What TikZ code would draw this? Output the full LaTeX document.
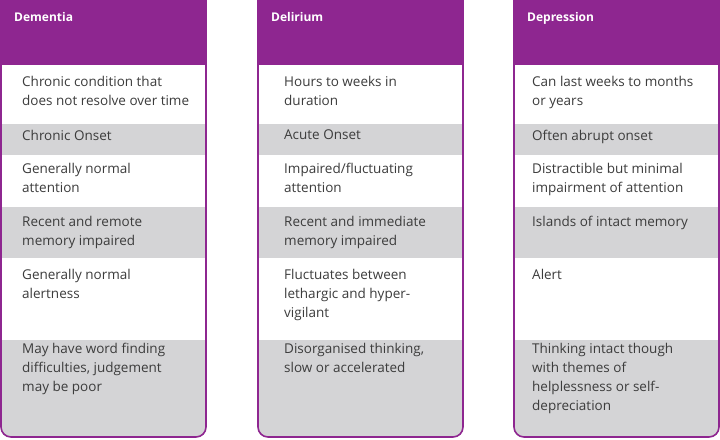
\documentclass[tikz,border=0pt]{standalone}
\usepackage{fontspec}
\setmainfont{Open Sans}
\definecolor{colpurple}{HTML}{8E2690}
\definecolor{rowgrey}{HTML}{D4D4D6}
\definecolor{txtgrey}{HTML}{3C3C3C}
\tikzset{
  head/.style={anchor=north west,inner sep=0pt,text=white,font=\fontsize{12}{14}\selectfont\bfseries},
  cell/.style={anchor=north west,inner sep=0pt,text=txtgrey,align=left,font=\fontsize{13.5}{19}\selectfont},
}
\begin{document}
\begin{tikzpicture}[x=1pt,y=-1pt]
  \useasboundingbox (0,0) rectangle (720,439);
  \foreach \cx in {0,257,513}{
    % column body
    \begin{scope}
      \clip[rounded corners=10pt] (\cx+1,-20) rectangle (\cx+206,437);
      \fill[white] (\cx,0) rectangle (\cx+207,437);
      \fill[colpurple] (\cx,-20) rectangle (\cx+207,65);
      \fill[rowgrey] (\cx,124) rectangle (\cx+207,155);
      \fill[rowgrey] (\cx,207) rectangle (\cx+207,258);
      \fill[rowgrey] (\cx,340) rectangle (\cx+207,437);
    \end{scope}
    \draw[colpurple,line width=1.6pt,rounded corners=10pt] (\cx+1,-20) rectangle (\cx+206,437);
  }
  % headers
  \node[head] (hdem) at (14,12) {Dementia};
  \node[head] (hdel) at (271,12) {Delirium};
  \node[head] (hdep) at (527,12) {Depression};
  % dementia
  \node[cell] (dem1) at (22,76) {Chronic condition that\\does not resolve over time};
  \node[cell] (dem2) at (22,130) {Chronic Onset};
  \node[cell] (dem3) at (22,163) {Generally normal\\attention};
  \node[cell] (dem4) at (22,216) {Recent and remote\\memory impaired};
  \node[cell] (dem5) at (22,269) {Generally normal\\alertness};
  \node[cell] (dem6) at (22,343) {May have word finding\\difficulties, judgement\\may be poor};
  % delirium
  \node[cell] (del1) at (284,76) {Hours to weeks in\\duration};
  \node[cell] (del2) at (284,130) {Acute Onset};
  \node[cell] (del3) at (284,163) {Impaired/fluctuating\\attention};
  \node[cell] (del4) at (284,216) {Recent and immediate\\memory impaired};
  \node[cell] (del5) at (284,269) {Fluctuates between\\lethargic and hyper-\\vigilant};
  \node[cell] (del6) at (284,343) {Disorganised thinking,\\slow or accelerated};
  % depression
  \node[cell] (dep1) at (532,76) {Can last weeks to months\\or years};
  \node[cell] (dep2) at (532,130) {Often abrupt onset};
  \node[cell] (dep3) at (532,163) {Distractible but minimal\\impairment of attention};
  \node[cell] (dep4) at (532,216) {Islands of intact memory};
  \node[cell] (dep5) at (532,269) {Alert};
  \node[cell] (dep6) at (532,343) {Thinking intact though\\with themes of\\helplessness or self-\\depreciation};
\end{tikzpicture}
\end{document}
